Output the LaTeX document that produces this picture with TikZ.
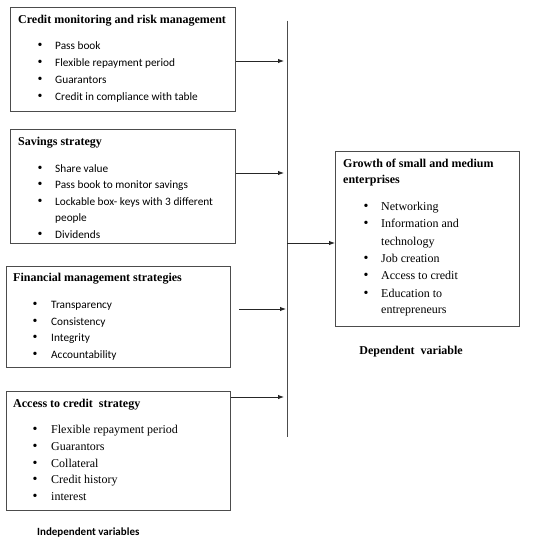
\documentclass[tikz,border=0pt]{standalone}
\usepackage{fontspec}
\setmainfont{Liberation Serif}
\newfontfamily\calfont{Carlito}
\usetikzlibrary{arrows.meta}
\tikzset{
  box/.style={draw=black!70, line width=0.9pt, anchor=north west, inner sep=0pt},
  txt/.style={inner sep=0pt, yshift=-2pt},
  ttl/.style={txt, anchor=mid west, font=\bfseries\fontsize{12}{14}\selectfont},
  itc/.style={txt, anchor=mid west, font=\calfont\fontsize{11.3}{13}\selectfont},
  its/.style={txt, anchor=mid west, font=\fontsize{12}{14}\selectfont},
  bul/.style={txt, anchor=mid, font=\fontsize{14}{16}\selectfont},
  arr/.style={draw=black!85, line width=0.9pt, -{Latex[length=6pt,width=4.5pt]}},
  vln/.style={draw=black!70, line width=1pt}
}
\begin{document}
\begin{tikzpicture}[x=1pt,y=-1pt]
\useasboundingbox (0,0) rectangle (540,538);

% boxes
\node[box, minimum width=225pt, minimum height=104pt] (b1) at (10,7) {};
\node[box, minimum width=225pt, minimum height=114pt] (b2) at (10,129) {};
\node[box, minimum width=224pt, minimum height=101pt] (b3) at (6,266) {};
\node[box, minimum width=224pt, minimum height=119pt] (b4) at (6,391) {};
\node[box, minimum width=184pt, minimum height=175pt] (m) at (335,151) {};

% box 1
\node[ttl] (t1) at (18,19) {Credit monitoring and risk management};
\foreach \y/\t [count=\i] in {45/Pass book, 62/Flexible repayment period, 79/Guarantors, 96/Credit in compliance with table}{
  \node[bul] (b1d\i) at (40,\y) {•};
  \node[itc] (b1i\i) at (55,\y) {\t};
}

% box 2
\node[ttl] (t2) at (18,141) {Savings strategy};
\foreach \y/\t [count=\i] in {168/Share value, 184/Pass book to monitor savings, 201/Lockable box- keys with 3 different, 234/Dividends}{
  \node[bul] (b2d\i) at (40,\y) {•};
  \node[itc] (b2i\i) at (55,\y) {\t};
}
\node[itc] (b2i5) at (55,217) {people};

% box 3
\node[ttl] (t3) at (13,277) {Financial management strategies};
\foreach \y/\t [count=\i] in {304/Transparency, 321/Consistency, 337/Integrity, 354/Accountability}{
  \node[bul] (b3d\i) at (35,\y) {•};
  \node[itc] (b3i\i) at (51,\y) {\t};
}

% box 4
\node[ttl] (t4) at (13,403) {Access to credit\ \ strategy};
\foreach \y/\t [count=\i] in {429/Flexible repayment period, 446/Guarantors, 463/Collateral, 479/Credit history, 496/interest}{
  \node[bul] (b4d\i) at (35,\y) {•};
  \node[its] (b4i\i) at (51,\y) {\t};
}

% main box
\node[ttl] (tm1) at (343,163) {Growth of small and medium};
\node[ttl] (tm2) at (343,179) {enterprises};
\foreach \y/\t [count=\i] in {206/Networking, 223/Information and, 258/Job creation, 275/Access to credit, 293/Education to}{
  \node[bul] (md\i) at (366,\y) {•};
  \node[its] (mi\i) at (381,\y) {\t};
}
\node[its] (mi6) at (381,241) {technology};
\node[its] (mi7) at (381,309) {entrepreneurs};

% captions
\node[txt, anchor=mid, font=\bfseries\fontsize{12}{14}\selectfont] (dep) at (411,350) {Dependent\ \ variable};
\node[txt, anchor=mid west, font=\calfont\bfseries\fontsize{11}{13}\selectfont] (ind) at (37,531) {Independent variables};

% vertical line
\coordinate (vt) at (287,20.5);
\coordinate (vb) at (287,437);
\draw[vln] (vt) -- (vb);

% arrow heads near line
\coordinate (h1) at (284,61);
\coordinate (h2) at (284,173);
\coordinate (h3) at (286,309);
\coordinate (h4) at (284,397);
\coordinate (s3) at (239,309);
\coordinate (j) at (287,243);

\draw[arr] (b1.east |- h1) -- (h1);
\draw[arr] (b2.east |- h2) -- (h2);
\draw[arr] (s3) -- (h3);
\draw[arr] (b4.east |- h4) -- (h4);
\draw[arr] (j) -- (j -| m.west);
\end{tikzpicture}
\end{document}
